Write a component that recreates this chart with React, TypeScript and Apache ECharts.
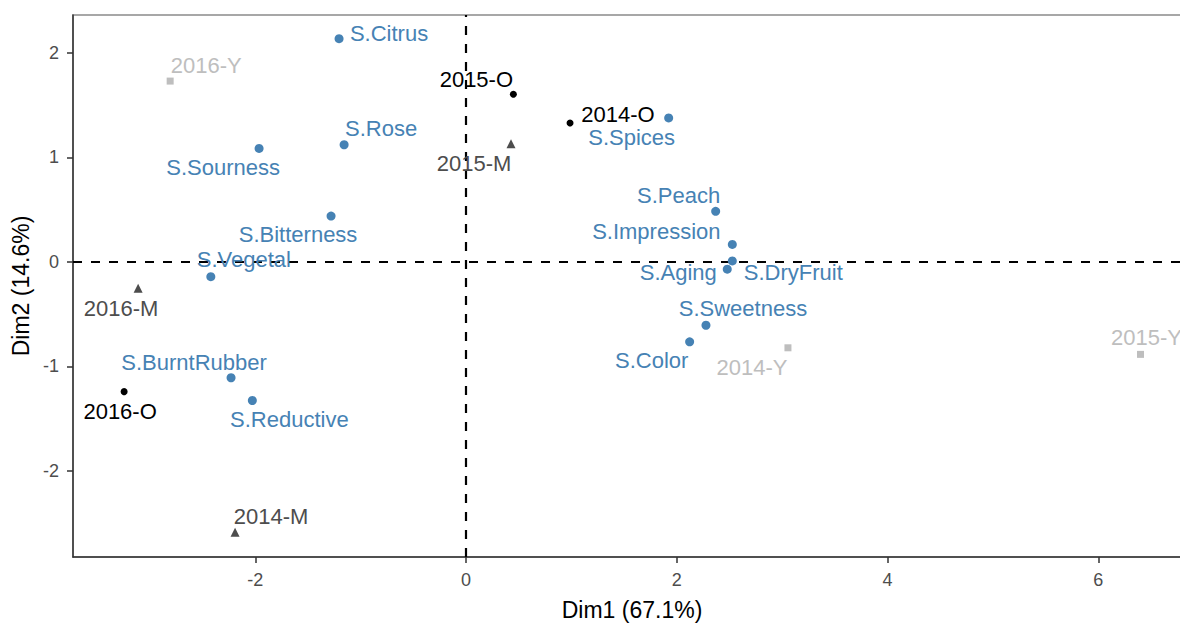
import React, { useEffect, useRef } from "react";
import * as echarts from "echarts";

// ---- data ----
const varNames = ["S.Citrus", "S.Rose", "S.Sourness", "S.Bitterness", "S.Vegetal", "S.BurntRubber", "S.Reductive", "S.Spices", "S.Peach", "S.Impression", "S.DryFruit", "S.Aging", "S.Sweetness", "S.Color"];
const varDim1 = [-1.205, -1.157, -1.964, -1.281, -2.422, -2.23, -2.028, 1.923, 2.369, 2.527, 2.527, 2.479, 2.277, 2.122];
const varDim2 = [2.138, 1.122, 1.087, 0.439, -0.142, -1.11, -1.328, 1.379, 0.484, 0.167, 0.009, -0.07, -0.607, -0.766];

const oNames = ["2014-O", "2015-O", "2016-O"];
const oDim1 = [0.987, 0.449, -3.245];
const oDim2 = [1.331, 1.606, -1.243];

const mNames = ["2014-M", "2015-M", "2016-M"];
const mDim1 = [-2.192, 0.427, -3.112];
const mDim2 = [-2.59, 1.132, -0.253];

const yNames = ["2014-Y", "2015-Y", "2016-Y"];
const yDim1 = [3.055, 6.401, -2.808];
const yDim2 = [-0.823, -0.886, 1.732];

const xTicks = [-2, 0, 2, 4, 6];
const yTicks = [-2, -1, 0, 1, 2];

// ---- layout: label offsets (px) relative to the point ----
const LABEL_OFFSETS: Record<string, [number, number]> = {
  "S.Citrus": [50, -5],
  "S.Rose": [37, -16],
  "S.Sourness": [-36, 19],
  "S.Bitterness": [-33, 18],
  "S.Vegetal": [33, -17],
  "S.BurntRubber": [-37, -15],
  "S.Reductive": [37, 19],
  "S.Spices": [-37, 20],
  "S.Peach": [-37, -16],
  "S.Impression": [-76, -13],
  "S.DryFruit": [61, 12],
  "S.Aging": [-49, 3],
  "S.Sweetness": [37, -17],
  "S.Color": [-38, 19],
  "2015-O": [-37, -15],
  "2014-O": [48, -8],
  "2016-O": [-4, 20],
  "2015-M": [-37, 20],
  "2016-M": [-17, 20],
  "2014-M": [36, -16],
  "2016-Y": [36, -16],
  "2014-Y": [-36, 20],
  "2015-Y": [6, -17],
};

const FONT = "'Liberation Sans', Arial, sans-serif";

function build(names: string[], xs: number[], ys: number[], color: string) {
  return names.map((n, i) => ({
    name: n,
    value: [xs[i], ys[i]],
    label: {
      show: true,
      position: "inside",
      offset: LABEL_OFFSETS[n] || [0, 0],
      formatter: n,
      color,
      opacity: 1,
      fontSize: 22,
      fontFamily: FONT,
    },
  }));
}

export default function App() {
  const ref = useRef<HTMLDivElement>(null);
  useEffect(() => {
    if (!ref.current) return;
    const chart = echarts.init(ref.current, undefined, { renderer: "svg" });
    const blue = "#4682B4";
    const option: any = {
      animation: false,
      backgroundColor: "#ffffff",
      grid: {
        left: 73,
        top: 15,
        right: 9,
        bottom: 64,
        show: true,
        borderColor: "#8a8a8a",
        borderWidth: 1.5,
        backgroundColor: "transparent",
      },
      xAxis: {
        type: "value",
        min: -3.73,
        max: 6.88,
        name: "Dim1 (67.1%)",
        nameLocation: "middle",
        nameGap: 41,
        nameTextStyle: { color: "#000", fontSize: 23, fontFamily: FONT },
        axisLine: { show: true, onZero: false, lineStyle: { color: "#333", width: 1.5 } },
        axisTick: { show: true, length: 6, lineStyle: { color: "#333", width: 1.5 }, customValues: xTicks },
        axisLabel: { color: "#4D4D4D", fontSize: 18, fontFamily: FONT, margin: 14, customValues: xTicks },
        splitLine: { show: false },
      },
      yAxis: {
        type: "value",
        min: -2.827,
        max: 2.365,
        name: "Dim2 (14.6%)",
        nameLocation: "middle",
        nameGap: 40,
        nameRotate: 90,
        nameTextStyle: { color: "#000", fontSize: 23, fontFamily: FONT },
        axisLine: { show: true, onZero: false, lineStyle: { color: "#333", width: 1.5 } },
        axisTick: { show: true, length: 6, lineStyle: { color: "#333", width: 1.5 }, customValues: yTicks },
        axisLabel: { color: "#4D4D4D", fontSize: 18, fontFamily: FONT, margin: 14, customValues: yTicks },
        splitLine: { show: false },
      },
      series: [
        {
          name: "Variables",
          type: "scatter",
          symbol: "circle",
          symbolSize: 9,
          itemStyle: { color: blue, opacity: 1 },
          data: build(varNames, varDim1, varDim2, blue),
          z: 3,
          markLine: {
            silent: true,
            symbol: "none",
            label: { show: false },
            lineStyle: { color: "#000", width: 2.2, type: [9, 9], opacity: 1 },
            data: [{ xAxis: 0 }, { yAxis: 0 }],
            z: 1,
          },
        },
        {
          name: "O",
          type: "scatter",
          symbol: "circle",
          symbolSize: 7,
          itemStyle: { color: "#000", opacity: 1 },
          data: build(oNames, oDim1, oDim2, "#000"),
          z: 3,
        },
        {
          name: "M",
          type: "scatter",
          symbol: "triangle",
          symbolSize: 9,
          itemStyle: { color: "#4D4D4D", opacity: 1 },
          data: build(mNames, mDim1, mDim2, "#4D4D4D"),
          z: 3,
        },
        {
          name: "Y",
          type: "scatter",
          symbol: "rect",
          symbolSize: 7,
          itemStyle: { color: "#BEBEBE", opacity: 1 },
          data: build(yNames, yDim1, yDim2, "#BEBEBE"),
          z: 3,
        },
      ],
    };
    chart.setOption(option);
    return () => chart.dispose();
  }, []);
  return (
    <div style={{ position: "fixed", left: 0, top: 0, width: 1180, height: 626, overflow: "hidden", background: "#fff" }}>
      <div ref={ref} style={{ width: 1200, height: 626 }} />
    </div>
  );
}
